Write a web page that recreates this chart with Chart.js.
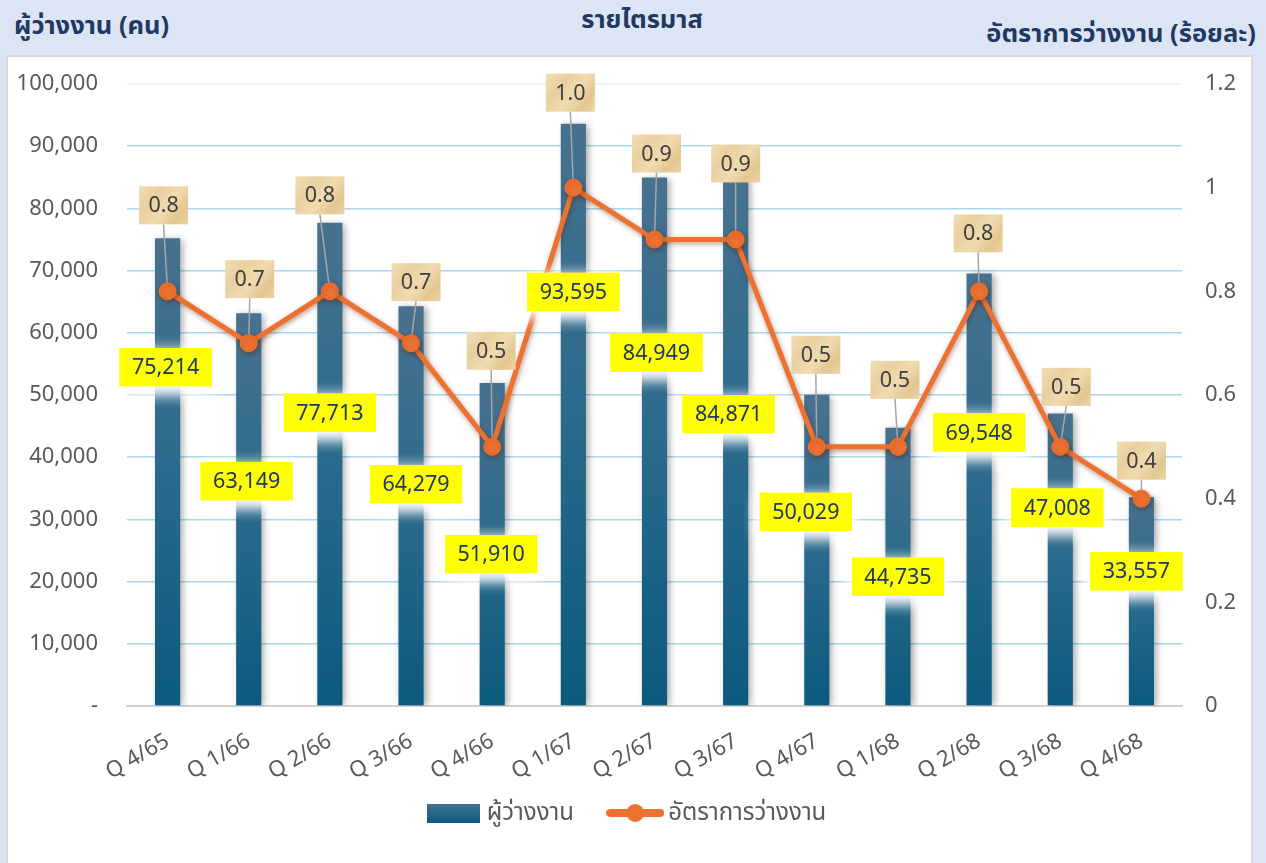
<!DOCTYPE html>
<html>
<head>
<meta charset="utf-8">
<script src="https://cdn.jsdelivr.net/npm/chart.js@4.4.1/dist/chart.umd.min.js"></script>
<style>
  body { margin: 0; background: #dde5f5; width: 1266px; height: 863px; overflow: hidden; position: relative;
         font-family: 'Noto Sans', 'Noto Sans Thai', Tahoma, sans-serif; }
  .ttl { position: absolute; color: #1f3864; font-weight: bold; font-size: 25.5px; white-space: nowrap; line-height: 1; }
  #panel { position: absolute; left: 6px; top: 55px; width: 1247px; height: 808px; background: #fff;
           box-shadow: inset 2px 2px 0 #d9d9d9, inset -2px 0 0 #d9d9d9; }
  #panel canvas { display: block; }
</style>
</head>
<body>
<div class="ttl" style="left:14px; top:12px;">ผู้ว่างงาน (คน)</div>
<div class="ttl" style="left:642px; top:6px; transform:translateX(-50%);">รายไตรมาส</div>
<div class="ttl" style="right:10px; top:20px;">อัตราการว่างงาน (ร้อยละ)</div>
<div id="panel"><canvas id="grafico" width="1247" height="808"></canvas></div>
<script>
const quarters = ["Q 4/65", "Q 1/66", "Q 2/66", "Q 3/66", "Q 4/66", "Q 1/67", "Q 2/67",
                  "Q 3/67", "Q 4/67", "Q 1/68", "Q 2/68", "Q 3/68", "Q 4/68"];
const unemployed = [75214, 63149, 77713, 64279, 51910, 93595, 84949, 84871, 50029, 44735, 69548, 47008, 33557];
const unemploymentRate = [0.8, 0.7, 0.8, 0.7, 0.5, 1.0, 0.9, 0.9, 0.5, 0.5, 0.8, 0.5, 0.4];

// label placement (pixels relative to the mark), dragged by hand in the original
const barLabelShift = [[-2,129],[-2,168],[0,190],[5,178],[-1,171],[0,168],[2,175],[-7,236],[-11,117],[0,149],[0,159],[-3,94],[-5,74]];
const rateLabelShift = [[-4,-86],[1,-64],[-10,-96],[5,-61],[-1,-96],[-3,-95],[2,-86],[0,-76],[-1,-92],[-3,-67],[-1,-58],[6,-60],[0,-38]];

const FONT = "'Noto Sans', 'Noto Sans Thai', Tahoma, sans-serif";

function barGradient(c) {
  const chart = c.chart;
  const area = chart.chartArea;
  if (!area || c.type !== 'data') return '#2a6a8c';
  const top = chart.scales.y.getPixelForValue(c.raw);
  const g = chart.ctx.createLinearGradient(0, top, 0, area.bottom);
  g.addColorStop(0, '#48728f');
  g.addColorStop(0.5, '#2a6a8c');
  g.addColorStop(1, '#0b5a7d');
  return g;
}

function legendIcon(kind) {
  const cv = document.createElement('canvas');
  const c = cv.getContext('2d');
  if (kind === 'bar') {
    cv.width = 53; cv.height = 19;
    const g = c.createLinearGradient(0, 0, 0, 19);
    g.addColorStop(0, '#48728f');
    g.addColorStop(1, '#0b5a7d');
    c.fillStyle = g;
    c.fillRect(0, 0, 53, 19);
  } else {
    cv.width = 58; cv.height = 20;
    c.strokeStyle = '#ed7131';
    c.lineWidth = 8;
    c.lineCap = 'round';
    c.beginPath(); c.moveTo(4, 10); c.lineTo(54, 10); c.stroke();
    c.fillStyle = '#ed7131';
    c.beginPath(); c.arc(29, 10, 9, 0, Math.PI * 2); c.fill();
  }
  return cv;
}
const icons = [legendIcon('bar'), legendIcon('line')];

function parchment(ctx, x, y, w, h) {
  const g = ctx.createLinearGradient(x, y, x + w, y + h);
  g.addColorStop(0, '#f2deb4');
  g.addColorStop(0.3, '#e8cf9f');
  g.addColorStop(0.55, '#f0dbb0');
  g.addColorStop(0.8, '#e3c690');
  g.addColorStop(1, '#ecd5a6');
  ctx.fillStyle = g;
  ctx.fillRect(x, y, w, h);
}

const valueLabels = {
  id: 'valueLabels',
  beforeDatasetDraw(chart, args) {
    const ctx = chart.ctx;
    if (args.index === 1) {
      // leader lines from the rate labels to the points
      const pts = args.meta.data;
      ctx.save();
      ctx.strokeStyle = '#a6a6a6';
      ctx.lineWidth = 1.5;
      pts.forEach((p, i) => {
        const bx = p.x + rateLabelShift[i][0];
        const by = p.y + rateLabelShift[i][1] + 19;
        ctx.beginPath(); ctx.moveTo(bx, by); ctx.lineTo(p.x, p.y); ctx.stroke();
      });
      ctx.restore();
      ctx.save();
      ctx.shadowColor = 'rgba(90,35,0,0.45)';
      ctx.shadowBlur = 5;
      ctx.shadowOffsetX = 1;
      ctx.shadowOffsetY = 2;
    } else {
      ctx.save();
      ctx.shadowColor = 'rgba(0,0,0,0.35)';
      ctx.shadowBlur = 7;
      ctx.shadowOffsetX = 3;
      ctx.shadowOffsetY = 1;
    }
  },
  afterDatasetDraw(chart) {
    chart.ctx.restore();
  },
  afterDatasetsDraw(chart) {
    const ctx = chart.ctx;
    const bars = chart.getDatasetMeta(0).data;
    const pts = chart.getDatasetMeta(1).data;
    ctx.save();
    ctx.font = '21.5px ' + FONT;
    ctx.textAlign = 'center';
    ctx.textBaseline = 'middle';
    bars.forEach((b, i) => {
      const cx = b.x + barLabelShift[i][0];
      const cy = b.y + barLabelShift[i][1];
      ctx.save();
      ctx.shadowColor = 'rgba(255,255,255,1)';
      ctx.shadowBlur = 16;
      ctx.shadowOffsetY = 5;
      ctx.fillStyle = '#ffff00';
      ctx.fillRect(cx - 46, cy - 19, 92, 38);
      ctx.fillRect(cx - 46, cy - 19, 92, 38);
      ctx.restore();
      ctx.fillStyle = '#ffff00';
      ctx.fillRect(cx - 46, cy - 19, 92, 38);
      ctx.fillStyle = '#1f3864';
      ctx.fillText(unemployed[i].toLocaleString('en-US'), cx, cy + 1);
    });
    pts.forEach((p, i) => {
      const cx = p.x + rateLabelShift[i][0];
      const cy = p.y + rateLabelShift[i][1];
      parchment(ctx, cx - 24.5, cy - 19, 49, 38);
      ctx.fillStyle = '#404040';
      ctx.fillText(unemploymentRate[i].toFixed(1), cx, cy + 1);
    });
    ctx.restore();
  }
};

function fixVertical(width) {
  return (s) => {
    s.width = width;
    s.paddingTop = 0;
    s.paddingBottom = 0;
  };
}

const ctx = document.getElementById('grafico');
const myChart = new Chart(ctx, {
  type: 'bar',
  data: {
    labels: quarters,
    datasets: [
      {
        label: 'ผู้ว่างงาน',
        data: unemployed,
        backgroundColor: barGradient,
        barPercentage: 0.31,
        categoryPercentage: 1,
        yAxisID: 'y',
        order: 1,
      },
      {
        type: 'line',
        label: 'อัตราการว่างงาน',
        data: unemploymentRate,
        borderColor: '#ed7131',
        backgroundColor: '#ed7131',
        borderWidth: 5,
        pointRadius: 8.5,
        pointHoverRadius: 8.5,
        pointBorderWidth: 1,
        tension: 0,
        yAxisID: 'y1',
        order: 0,
      },
    ],
  },
  options: {
    responsive: false,
    animation: false,
    layout: { autoPadding: false, padding: { top: 29, bottom: 28, left: 0, right: 0 } },
    plugins: {
      tooltip: { enabled: false },
      legend: {
        position: 'bottom',
        labels: {
          usePointStyle: true,
          pointStyleWidth: 42,
          padding: 9,
          color: '#595959',
          font: { family: FONT, size: 24 },
          sort: (a, b) => a.datasetIndex - b.datasetIndex,
          generateLabels: (chart) => chart.data.datasets.map((ds, i) => ({
            text: i === 0 ? ds.label + '     ' : ds.label,
            pointStyle: icons[i],
            datasetIndex: i,
            fontColor: '#595959',
            fillStyle: 'transparent',
            strokeStyle: 'transparent',
            lineWidth: 0,
            hidden: false,
          })),
        },
      },
    },
    scales: {
      x: {
        grid: { display: false },
        border: { display: true, color: '#d0d0d0', width: 2 },
        ticks: {
          color: '#595959',
          font: { family: FONT, size: 22 },
          minRotation: 30,
          maxRotation: 30,
          padding: 14,
        },
        afterFit: (s) => { s.height = 86; },
      },
      y: {
        position: 'left',
        min: 0,
        max: 100000,
        ticks: {
          stepSize: 10000,
          color: '#595959',
          font: { family: FONT, size: 22 },
          padding: 29,
          callback: (v) => v === 0 ? '-' : v.toLocaleString('en-US'),
        },
        grid: {
          drawTicks: false,
          lineWidth: 1.5,
          color: (c) => c.tick.value === 0 ? 'rgba(0,0,0,0)' : (c.tick.value === 100000 ? '#e8f1fa' : '#a9d7ed'),
        },
        border: { display: false },
        afterFit: fixVertical(121),
      },
      y1: {
        position: 'right',
        min: 0,
        max: 1.2,
        ticks: {
          stepSize: 0.2,
          color: '#595959',
          font: { family: FONT, size: 22 },
          padding: 23,
          callback: (v) => String(Math.round(v * 10) / 10),
        },
        grid: { display: false, drawTicks: false },
        border: { display: false },
        afterFit: fixVertical(71),
      },
    },
  },
  plugins: [valueLabels],
});
</script>
</body>
</html>
